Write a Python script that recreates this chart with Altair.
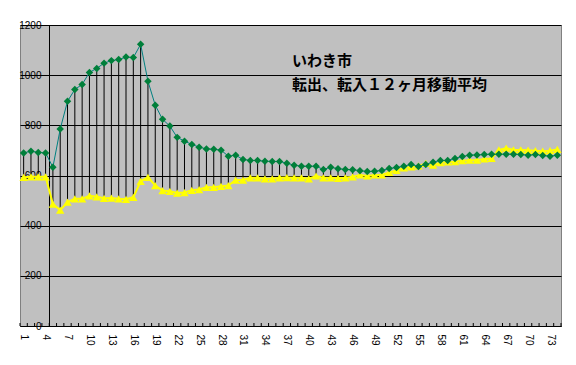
import altair as alt
import pandas as pd

periods = list(range(1, 75))
tenshutsu = [690, 697, 692, 690, 633, 785, 896, 943, 963, 1011,
             1027, 1048, 1058, 1062, 1072, 1070, 1123, 976, 880, 824,
             797, 752, 737, 724, 713, 706, 705, 701, 677, 681,
             664, 660, 660, 657, 656, 656, 649, 641, 637, 637,
             637, 624, 633, 627, 624, 623, 619, 616, 617, 620,
             628, 632, 637, 644, 636, 644, 653, 660, 660, 668,
             676, 681, 682, 684, 685, 685, 685, 685, 684, 681,
             684, 680, 677, 681]
tennyu = [593, 595, 595, 595, 486, 462, 494, 507, 507, 519,
          515, 509, 510, 507, 505, 513, 577, 593, 560, 540,
          537, 530, 532, 541, 544, 553, 553, 557, 560, 582,
          582, 591, 591, 587, 587, 591, 592, 591, 591, 587,
          598, 591, 591, 589, 591, 595, 602, 598, 602, 602,
          612, 620, 630, 634, 638, 648, 641, 651, 654, 655,
          659, 661, 661, 666, 668, 702, 709, 702, 702, 701,
          699, 697, 699, 704]
x_labels = list(range(1, 74, 3))
y_ticks = [0, 200, 400, 600, 800, 1000, 1200]
title_lines = ["いわき市", "転出、転入１２ヶ月移動平均"]

df = pd.DataFrame({"n": periods, "out": tenshutsu, "in": tennyu})
bounds = pd.DataFrame({"b": [p - 0.5 for p in periods] + [periods[-1] + 0.5]})

W, H = 541, 301
xs = alt.Scale(domain=[0.5, 74.5], nice=False, zero=False)
ys = alt.Scale(domain=[0, 1200], nice=False)

x_axis = alt.Axis(values=x_labels, labelAngle=90, tickSize=0, labelPadding=8,
                  format="d", domainColor="black", grid=False, title=None,
                  labelFontSize=10, labelFont="Liberation Sans", labelColor="black",
                  labelAlign="left", labelBaseline="middle", labelOverlap=False,
                  labelSeparation=0)
y_axis = alt.Axis(values=y_ticks, offset=-29, tickSize=5, tickColor="black", format="d",
                  domainColor="black", grid=True, gridColor="black", gridOpacity=1,
                  gridWidth=1, title=None, labelFontSize=10, labelFont="Liberation Sans",
                  labelColor="black", labelPadding=3)

X = alt.X("n:Q", scale=xs, axis=x_axis)

base = alt.Chart(df)
drops = base.mark_rule(color="black", strokeWidth=1).encode(
    x=X,
    y=alt.Y("out:Q", scale=ys, axis=y_axis),
    y2="in:Q",
)
yline = base.mark_line(color="#FFFF00", strokeWidth=2).encode(
    x=X, y=alt.Y("in:Q", scale=ys, axis=y_axis))
ypts = base.mark_point(shape="triangle-up", filled=True, color="#FFFF00", size=70, opacity=1).encode(
    x=X, y=alt.Y("in:Q", scale=ys, axis=y_axis))
gline = base.mark_line(color="#008080", strokeWidth=1).encode(
    x=X, y=alt.Y("out:Q", scale=ys, axis=y_axis))
gpts = base.mark_point(shape="diamond", filled=True, color="#007F3A", size=56, opacity=1).encode(
    x=X, y=alt.Y("out:Q", scale=ys, axis=y_axis))
ticks = alt.Chart(bounds).mark_rule(color="black", strokeWidth=1).encode(
    x=alt.X("b:Q", scale=xs, axis=x_axis), y=alt.value(H - 3), y2=alt.value(H))

t1 = alt.Chart(pd.DataFrame({"t": [title_lines[0]]})).mark_text(
    align="left", baseline="middle", fontSize=15, fontWeight="bold",
    font="Noto Sans CJK JP", color="black").encode(
    text="t:N", x=alt.value(272), y=alt.value(36))
t2 = alt.Chart(pd.DataFrame({"t": [title_lines[1]]})).mark_text(
    align="left", baseline="middle", fontSize=15, fontWeight="bold",
    font="Noto Sans CJK JP", color="black").encode(
    text="t:N", x=alt.value(272), y=alt.value(60))

chart = alt.layer(drops, yline, ypts, gline, gpts, ticks, t1, t2).properties(
    width=W, height=H,
    autosize=alt.AutoSizeParams(type="none"),
    padding={"left": 12, "top": 17, "right": 7, "bottom": 30},
    background="white",
).configure_view(fill="#C0C0C0", stroke="#808080", strokeWidth=1
).configure_axisX(labelOverlap=False)

chart.save("out.html", embed_options={"renderer": "svg", "actions": False})
